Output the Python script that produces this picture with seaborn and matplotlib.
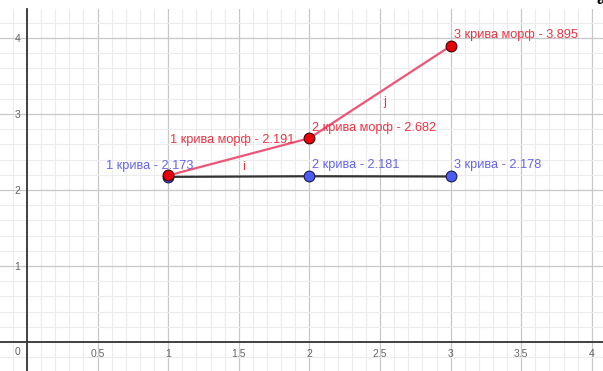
import numpy as np
import pandas as pd
import seaborn as sns
import matplotlib.pyplot as plt
from matplotlib.ticker import MultipleLocator

# data
points = [1, 2, 3]
base_vals = [2.173, 2.181, 2.178]
morph_vals = [2.191, 2.682, 3.895]
segment_names = ["i", "j"]
x_ticks = [0.5, 1, 1.5, 2, 2.5, 3, 3.5, 4]
x_tick_labels = ["0.5", "1", "1.5", "2", "2.5", "3", "3.5", "4"]
y_ticks = [1, 2, 3, 4]
y_tick_labels = ["1", "2", "3", "4"]

sns.set_style("white")
plt.rcParams["font.family"] = ["Liberation Sans", "DejaVu Sans"]

RED_LINE = "#ee5577"
RED_PT = "#e8000b"
RED_TXT = "#ee3344"
BLUE_PT = "#4c5cf0"
BLUE_TXT = "#6464ee"
DARK = "#333333"

fig = plt.figure(figsize=(6.03, 3.71), dpi=100)
ax = fig.add_axes([0, 0, 1, 362 / 371])

df = pd.DataFrame({"x": points, "base": base_vals, "morph": morph_vals})

sns.lineplot(data=df, x="x", y="base", color=DARK, lw=1.6, ax=ax, zorder=3)
sns.lineplot(data=df, x="x", y="morph", color=RED_LINE, lw=1.6, ax=ax, zorder=3)
sns.scatterplot(data=df, x="x", y="base", color=BLUE_PT, s=60, edgecolor="#1a1a50",
                linewidth=0.8, ax=ax, zorder=4)
sns.scatterplot(data=df, x="x", y="morph", color=RED_PT, s=60, edgecolor="#400000",
                linewidth=0.8, ax=ax, zorder=4)

ax.set_xlim(-0.191, 4.079)
ax.set_ylim(-0.382, 4.382)

# grid like geogebra
ax.xaxis.set_major_locator(MultipleLocator(0.5))
ax.xaxis.set_minor_locator(MultipleLocator(0.1))
ax.yaxis.set_major_locator(MultipleLocator(1))
ax.yaxis.set_minor_locator(MultipleLocator(0.2))
ax.grid(which="major", color="#c8c8c8", lw=0.9, zorder=0)
ax.grid(which="minor", color="#ececec", lw=0.8, zorder=0)
ax.set_axisbelow(True)

for s in ["top", "right"]:
    ax.spines[s].set_visible(False)
ax.spines["left"].set_position(("data", 0))
ax.spines["bottom"].set_position(("data", 0))
for s in ["left", "bottom"]:
    ax.spines[s].set_color(DARK)
    ax.spines[s].set_linewidth(1.3)

ax.set_xticks(x_ticks)
ax.set_xticklabels(x_tick_labels)
ax.set_yticks(y_ticks)
ax.set_yticklabels(y_tick_labels)
ax.tick_params(which="major", length=3, width=0.8, color="#888888",
               labelsize=7.5, labelcolor="#666666", pad=2)
ax.tick_params(which="minor", length=0)
ax.set_xlabel("")
ax.set_ylabel("")
ax.annotate("0", xy=(0, 0), xytext=(-7, -5), textcoords="offset pixels",
            ha="right", va="top", fontsize=7.5, color="#666666")

# point labels
fs = 9.2
ax.annotate(f"1 крива - {base_vals[0]}", xy=(points[0], base_vals[0]), xytext=(25, 5),
            textcoords="offset pixels", ha="right", va="bottom", fontsize=fs, color=BLUE_TXT)
for k in [1, 2]:
    ax.annotate(f"{points[k]} крива - {base_vals[k]}", xy=(points[k], base_vals[k]),
                xytext=(3, 5), textcoords="offset pixels", ha="left", va="bottom",
                fontsize=fs, color=BLUE_TXT)
ax.annotate(f"1 крива морф - {morph_vals[0]}", xy=(points[0], morph_vals[0]), xytext=(2, 29),
            textcoords="offset pixels", ha="left", va="bottom", fontsize=fs, color=RED_TXT)
for k in [1, 2]:
    ax.annotate(f"{points[k]} крива морф - {morph_vals[k]}", xy=(points[k], morph_vals[k]),
                xytext=(3, 4 if k == 1 else 5), textcoords="offset pixels", ha="left",
                va="bottom", fontsize=fs, color=RED_TXT)

# segment names at midpoints of the red segments
for k, name in enumerate(segment_names):
    mx = (points[k] + points[k + 1]) / 2
    my = (morph_vals[k] + morph_vals[k + 1]) / 2
    ax.annotate(name, xy=(mx, my), xytext=(5, -10), textcoords="offset pixels",
                ha="center", va="center", fontsize=fs, color=RED_TXT)

fig.text(0.99, 1.0, "a", ha="left", va="center", fontsize=11, fontweight="bold", color="black")

fig.savefig("out.png", dpi=100)
